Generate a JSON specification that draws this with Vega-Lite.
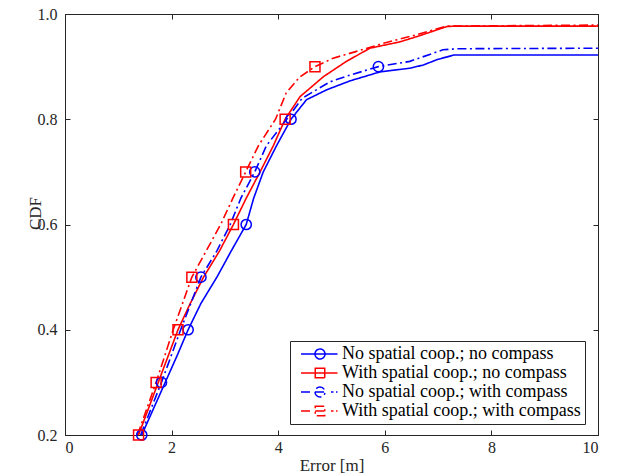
{
  "$schema": "https://vega.github.io/schema/vega-lite/v6.json",
  "autosize": {"type": "none"},
  "width": 533,
  "height": 421,
  "padding": {"left": 65, "top": 14, "right": 27, "bottom": 41},
  "background": "white",
  "config": {
    "view": {"stroke": "#262626", "strokeWidth": 1},
    "font": "Liberation Serif",
    "axis": {
      "domainColor": "#262626", "domainWidth": 1,
      "tickColor": "#262626", "tickWidth": 1, "tickSize": -5,
      "labelFont": "Liberation Serif", "labelFontSize": 16, "labelColor": "#262626",
      "titleFont": "Liberation Serif", "titleFontSize": 17, "titleFontWeight": "normal", "titleColor": "#262626",
      "grid": false
    }
  },
  "datasets": {
    "lines": [
      {"s": "No spatial coop.; no compass", "x": 1.44, "y": 0.2},
      {"s": "No spatial coop.; no compass", "x": 1.66, "y": 0.25},
      {"s": "No spatial coop.; no compass", "x": 1.88, "y": 0.3},
      {"s": "No spatial coop.; no compass", "x": 2.1, "y": 0.35},
      {"s": "No spatial coop.; no compass", "x": 2.31, "y": 0.4},
      {"s": "No spatial coop.; no compass", "x": 2.55, "y": 0.45},
      {"s": "No spatial coop.; no compass", "x": 2.85, "y": 0.5},
      {"s": "No spatial coop.; no compass", "x": 3.12, "y": 0.55},
      {"s": "No spatial coop.; no compass", "x": 3.4, "y": 0.6},
      {"s": "No spatial coop.; no compass", "x": 3.54, "y": 0.65},
      {"s": "No spatial coop.; no compass", "x": 3.72, "y": 0.7},
      {"s": "No spatial coop.; no compass", "x": 3.97, "y": 0.75},
      {"s": "No spatial coop.; no compass", "x": 4.24, "y": 0.8},
      {"s": "No spatial coop.; no compass", "x": 4.53, "y": 0.837},
      {"s": "No spatial coop.; no compass", "x": 4.91, "y": 0.856},
      {"s": "No spatial coop.; no compass", "x": 5.35, "y": 0.873},
      {"s": "No spatial coop.; no compass", "x": 5.91, "y": 0.89},
      {"s": "No spatial coop.; no compass", "x": 6.47, "y": 0.897},
      {"s": "No spatial coop.; no compass", "x": 6.72, "y": 0.903},
      {"s": "No spatial coop.; no compass", "x": 7.0, "y": 0.914},
      {"s": "No spatial coop.; no compass", "x": 7.3, "y": 0.922},
      {"s": "No spatial coop.; no compass", "x": 10, "y": 0.922},
      {"s": "With spatial coop.; no compass", "x": 1.38, "y": 0.2},
      {"s": "With spatial coop.; no compass", "x": 1.75, "y": 0.3},
      {"s": "With spatial coop.; no compass", "x": 2.12, "y": 0.4},
      {"s": "With spatial coop.; no compass", "x": 2.35, "y": 0.45},
      {"s": "With spatial coop.; no compass", "x": 2.6, "y": 0.5},
      {"s": "With spatial coop.; no compass", "x": 2.9, "y": 0.55},
      {"s": "With spatial coop.; no compass", "x": 3.16, "y": 0.6},
      {"s": "With spatial coop.; no compass", "x": 3.4, "y": 0.65},
      {"s": "With spatial coop.; no compass", "x": 3.66, "y": 0.7},
      {"s": "With spatial coop.; no compass", "x": 3.91, "y": 0.75},
      {"s": "With spatial coop.; no compass", "x": 4.13, "y": 0.8},
      {"s": "With spatial coop.; no compass", "x": 4.41, "y": 0.843},
      {"s": "With spatial coop.; no compass", "x": 4.85, "y": 0.881},
      {"s": "With spatial coop.; no compass", "x": 5.28, "y": 0.91},
      {"s": "With spatial coop.; no compass", "x": 5.72, "y": 0.935},
      {"s": "With spatial coop.; no compass", "x": 6.28, "y": 0.947},
      {"s": "With spatial coop.; no compass", "x": 6.6, "y": 0.957},
      {"s": "With spatial coop.; no compass", "x": 7.16, "y": 0.976},
      {"s": "With spatial coop.; no compass", "x": 7.3, "y": 0.977},
      {"s": "With spatial coop.; no compass", "x": 10, "y": 0.977},
      {"s": "No spatial coop.; with compass", "x": 1.42, "y": 0.2},
      {"s": "No spatial coop.; with compass", "x": 1.81, "y": 0.3},
      {"s": "No spatial coop.; with compass", "x": 2.17, "y": 0.4},
      {"s": "No spatial coop.; with compass", "x": 2.55, "y": 0.5},
      {"s": "No spatial coop.; with compass", "x": 2.85, "y": 0.55},
      {"s": "No spatial coop.; with compass", "x": 3.1, "y": 0.6},
      {"s": "No spatial coop.; with compass", "x": 3.3, "y": 0.65},
      {"s": "No spatial coop.; with compass", "x": 3.56, "y": 0.7},
      {"s": "No spatial coop.; with compass", "x": 3.78, "y": 0.75},
      {"s": "No spatial coop.; with compass", "x": 4.16, "y": 0.8},
      {"s": "No spatial coop.; with compass", "x": 4.45, "y": 0.84},
      {"s": "No spatial coop.; with compass", "x": 4.97, "y": 0.871},
      {"s": "No spatial coop.; with compass", "x": 5.35, "y": 0.884},
      {"s": "No spatial coop.; with compass", "x": 5.88, "y": 0.9},
      {"s": "No spatial coop.; with compass", "x": 6.47, "y": 0.91},
      {"s": "No spatial coop.; with compass", "x": 7.09, "y": 0.932},
      {"s": "No spatial coop.; with compass", "x": 7.35, "y": 0.934},
      {"s": "No spatial coop.; with compass", "x": 10, "y": 0.935},
      {"s": "With spatial coop.; with compass", "x": 1.36, "y": 0.2},
      {"s": "With spatial coop.; with compass", "x": 1.71, "y": 0.3},
      {"s": "With spatial coop.; with compass", "x": 2.03, "y": 0.4},
      {"s": "With spatial coop.; with compass", "x": 2.38, "y": 0.5},
      {"s": "With spatial coop.; with compass", "x": 2.65, "y": 0.55},
      {"s": "With spatial coop.; with compass", "x": 2.92, "y": 0.6},
      {"s": "With spatial coop.; with compass", "x": 3.15, "y": 0.65},
      {"s": "With spatial coop.; with compass", "x": 3.39, "y": 0.7},
      {"s": "With spatial coop.; with compass", "x": 3.63, "y": 0.75},
      {"s": "With spatial coop.; with compass", "x": 3.95, "y": 0.8},
      {"s": "With spatial coop.; with compass", "x": 4.15, "y": 0.85},
      {"s": "With spatial coop.; with compass", "x": 4.4, "y": 0.88},
      {"s": "With spatial coop.; with compass", "x": 4.69, "y": 0.9},
      {"s": "With spatial coop.; with compass", "x": 5.03, "y": 0.916},
      {"s": "With spatial coop.; with compass", "x": 5.47, "y": 0.929},
      {"s": "With spatial coop.; with compass", "x": 6.03, "y": 0.946},
      {"s": "With spatial coop.; with compass", "x": 6.5, "y": 0.958},
      {"s": "With spatial coop.; with compass", "x": 7.16, "y": 0.977},
      {"s": "With spatial coop.; with compass", "x": 10, "y": 0.979}
    ],
    "markers": [
      {"s": "No spatial coop.; no compass", "m": "circle", "x": 1.44, "y": 0.2},
      {"s": "No spatial coop.; no compass", "m": "circle", "x": 2.31, "y": 0.4},
      {"s": "No spatial coop.; no compass", "m": "circle", "x": 3.4, "y": 0.6},
      {"s": "No spatial coop.; no compass", "m": "circle", "x": 4.24, "y": 0.8},
      {"s": "No spatial coop.; with compass", "m": "circle", "x": 1.81, "y": 0.3},
      {"s": "No spatial coop.; with compass", "m": "circle", "x": 2.55, "y": 0.5},
      {"s": "No spatial coop.; with compass", "m": "circle", "x": 3.56, "y": 0.7},
      {"s": "No spatial coop.; with compass", "m": "circle", "x": 5.88, "y": 0.9},
      {"s": "With spatial coop.; no compass", "m": "square", "x": 1.38, "y": 0.2},
      {"s": "With spatial coop.; no compass", "m": "square", "x": 2.12, "y": 0.4},
      {"s": "With spatial coop.; no compass", "m": "square", "x": 3.16, "y": 0.6},
      {"s": "With spatial coop.; no compass", "m": "square", "x": 4.13, "y": 0.8},
      {"s": "With spatial coop.; with compass", "m": "square", "x": 1.71, "y": 0.3},
      {"s": "With spatial coop.; with compass", "m": "square", "x": 2.38, "y": 0.5},
      {"s": "With spatial coop.; with compass", "m": "square", "x": 3.39, "y": 0.7},
      {"s": "With spatial coop.; with compass", "m": "square", "x": 4.69, "y": 0.9}
    ]
  },
  "layer": [
    {
      "data": {"name": "markers"},
      "transform": [{"filter": "datum.x < 0"}],
      "mark": {"type": "point", "filled": false, "size": 100, "strokeWidth": 1.5, "opacity": 1},
      "encoding": {
        "x": {"field": "x", "type": "quantitative", "axis": null},
        "y": {"field": "y", "type": "quantitative", "axis": null},
        "color": {"field": "s", "type": "nominal",
                  "legend": {"title": null, "orient": "none", "legendX": 225, "legendY": 327,
                             "strokeColor": "#262626", "fillColor": "white", "padding": 4,
                             "labelFont": "Liberation Serif", "labelFontSize": 18, "labelColor": "black",
                             "labelOffset": 13, "symbolOffset": 17, "rowPadding": 1, "symbolSize": 100, "symbolStrokeWidth": 1.5, "labelLimit": 400}},
        "shape": {"field": "s", "type": "nominal",
                  "legend": {"title": null, "orient": "none", "legendX": 225, "legendY": 327,
                             "strokeColor": "#262626", "fillColor": "white", "padding": 4,
                             "labelFont": "Liberation Serif", "labelFontSize": 18, "labelColor": "black",
                             "labelOffset": 13, "symbolOffset": 17, "rowPadding": 1, "symbolSize": 100, "symbolStrokeWidth": 1.5, "labelLimit": 400},
                  "scale": {"domain": ["No spatial coop.; no compass", "With spatial coop.; no compass", "No spatial coop.; with compass", "With spatial coop.; with compass"],
                            "range": [
                              "M-3.8,0H3.5M-1,0A1,1 0 1,0 1,0A1,1 0 1,0 -1,0",
                              "M-3.8,0H3.5M-0.95,-0.95H0.95V0.95H-0.95Z",
                              "M-3.8,0H-1.7M-1,0H1.5M2.2,0H2.7M3.2,0H3.5M-1,0A1,1 0 1,0 1,0A1,1 0 1,0 -1,0",
                              "M-3.8,0H-1.7M-0.95,0H1.5M2.2,0H2.7M3.2,0H3.5M-0.95,-0.95H0.95V0.95H-0.95Z"
                            ]}}
      }
    },
    {
      "data": {"name": "lines"},
      "mark": {"type": "line", "strokeWidth": 1.6, "clip": true},
      "encoding": {
        "x": {"field": "x", "type": "quantitative", "scale": {"domain": [0, 10], "nice": false},
              "axis": {"orient": "bottom", "values": [0, 2, 4, 6, 8, 10], "format": "d", "labelPadding": 9, "title": "Error [m]", "titleY": 30, "titleBaseline": "middle"}},
        "y": {"field": "y", "type": "quantitative", "scale": {"domain": [0.2, 1.0], "nice": false, "zero": false},
              "axis": {"orient": "left", "values": [0.2, 0.4, 0.6, 0.8, 1.0], "format": ".1f", "labelPadding": 13, "title": "CDF", "titleX": -30, "titleY": 199, "titleBaseline": "middle"}},
        "color": {"field": "s", "type": "nominal", "legend": null,
                  "scale": {"domain": ["No spatial coop.; no compass", "With spatial coop.; no compass", "No spatial coop.; with compass", "With spatial coop.; with compass"],
                            "range": ["#0000ff", "#ff0000", "#0000ff", "#ff0000"]}},
        "strokeDash": {"field": "s", "type": "nominal", "legend": null,
                  "scale": {"domain": ["No spatial coop.; no compass", "With spatial coop.; no compass", "No spatial coop.; with compass", "With spatial coop.; with compass"],
                            "range": [[1, 0], [1, 0], [9, 3.5, 2, 3.5], [9, 3.5, 2, 3.5]]}}
      }
    },
    {
      "data": {"name": "markers"},
      "transform": [{"filter": "datum.m == 'circle'"}],
      "mark": {"type": "point", "shape": "circle", "filled": false, "size": 105, "strokeWidth": 1.5, "opacity": 1},
      "encoding": {
        "x": {"field": "x", "type": "quantitative", "axis": {"orient": "top", "values": [0, 2, 4, 6, 8, 10], "labels": false, "title": null}},
        "y": {"field": "y", "type": "quantitative", "axis": {"orient": "right", "values": [0.2, 0.4, 0.6, 0.8, 1.0], "labels": false, "title": null}},
        "color": {"field": "s", "type": "nominal", "legend": null}
      }
    },
    {
      "data": {"name": "markers"},
      "transform": [{"filter": "datum.m == 'square'"}],
      "mark": {"type": "point", "shape": "square", "filled": false, "size": 100, "strokeWidth": 1.5, "opacity": 1},
      "encoding": {
        "x": {"field": "x", "type": "quantitative", "axis": null},
        "y": {"field": "y", "type": "quantitative", "axis": null},
        "color": {"field": "s", "type": "nominal", "legend": null}
      }
    }
  ],
  "resolve": {"axis": {"x": "independent", "y": "independent"}}
}
